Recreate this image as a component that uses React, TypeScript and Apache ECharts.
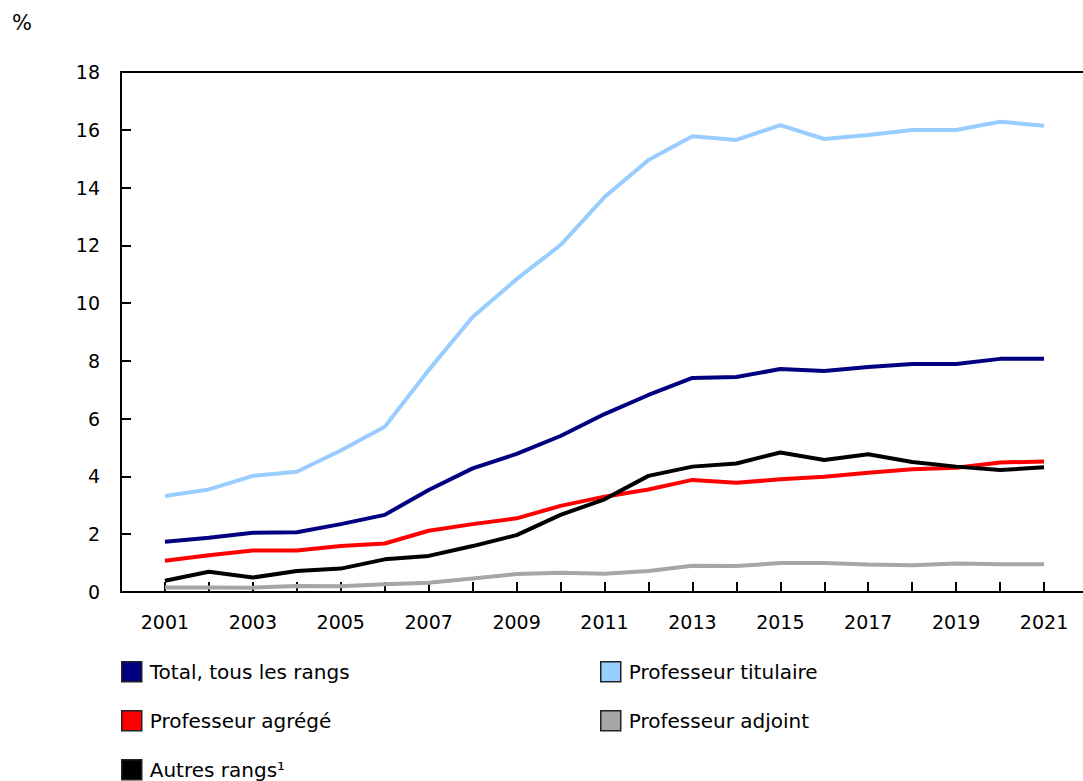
import React, { useEffect, useRef } from "react";
import * as echarts from "echarts";

const years = [2001, 2002, 2003, 2004, 2005, 2006, 2007, 2008, 2009, 2010, 2011, 2012, 2013, 2014, 2015, 2016, 2017, 2018, 2019, 2020, 2021];
const total = [1.74, 1.88, 2.05, 2.07, 2.35, 2.67, 3.53, 4.28, 4.78, 5.4, 6.16, 6.82, 7.41, 7.44, 7.72, 7.65, 7.79, 7.89, 7.89, 8.07, 8.07];
const titulaire = [3.32, 3.55, 4.02, 4.16, 4.9, 5.72, 7.68, 9.52, 10.83, 12.01, 13.67, 14.95, 15.78, 15.65, 16.16, 15.68, 15.82, 15.99, 15.99, 16.28, 16.14];
const agrege = [1.08, 1.27, 1.44, 1.44, 1.59, 1.68, 2.12, 2.35, 2.55, 2.98, 3.3, 3.55, 3.88, 3.78, 3.9, 3.99, 4.13, 4.25, 4.3, 4.48, 4.52];
const adjoint = [0.16, 0.16, 0.15, 0.21, 0.2, 0.27, 0.32, 0.47, 0.62, 0.67, 0.63, 0.73, 0.91, 0.9, 1.0, 1.0, 0.95, 0.93, 0.99, 0.96, 0.96];
const autres = [0.39, 0.7, 0.5, 0.73, 0.81, 1.13, 1.25, 1.59, 1.97, 2.67, 3.21, 4.02, 4.34, 4.45, 4.83, 4.57, 4.77, 4.5, 4.34, 4.22, 4.32];

const seriesDefs = [
  { name: "Total, tous les rangs", data: total, color: "#000080" },
  { name: "Professeur titulaire", data: titulaire, color: "#99ccff" },
  { name: "Professeur agrégé", data: agrege, color: "#ff0000" },
  { name: "Professeur adjoint", data: adjoint, color: "#a6a6a6" },
  { name: "Autres rangs¹", data: autres, color: "#000000" },
];

const legendPlaces = [
  { name: "Total, tous les rangs", left: 121, top: 661 },
  { name: "Professeur titulaire", left: 600, top: 661 },
  { name: "Professeur agrégé", left: 121, top: 710 },
  { name: "Professeur adjoint", left: 600, top: 710 },
  { name: "Autres rangs¹", left: 121, top: 759 },
];

const FONT = "DejaVu Sans, Verdana, sans-serif";

export default function App() {
  const ref = useRef<HTMLDivElement>(null);
  useEffect(() => {
    if (!ref.current) return;
    const chart = echarts.init(ref.current, undefined, { renderer: "svg" });
    chart.setOption({
      animation: false,
      title: {
        text: "%",
        left: 12,
        top: 12,
        padding: 0,
        textStyle: { fontFamily: FONT, fontSize: 21, fontWeight: "normal", color: "#000" },
      },
      legend: legendPlaces.map((p) => ({
        left: p.left,
        top: p.top,
        orient: "horizontal",
        icon: "rect",
        itemWidth: 20,
        itemHeight: 20,
        padding: 0,
        selectedMode: false,
        textStyle: { fontFamily: FONT, fontSize: 20, color: "#000", padding: [0, 0, 0, 3] },
        data: [{ name: p.name, itemStyle: { borderColor: "#222", borderWidth: 1.5 } }],
      })),
      grid: { left: 121, top: 72, right: 0, bottom: 189, containLabel: false },
      xAxis: [
        {
          type: "value",
          min: 2000,
          max: 2022,
          interval: 1,
          axisLine: { show: true, lineStyle: { color: "#000", width: 2 } },
          axisTick: { show: true, inside: true, length: 10, lineStyle: { color: "#000", width: 2 } },
          splitLine: { show: false },
          axisLabel: {
            margin: 20,
            fontFamily: FONT,
            fontSize: 19,
            color: "#000",
            formatter: (v: number) => (v % 2 === 1 && v < 2022 ? String(v) : ""),
          },
        },
        {
          type: "value",
          position: "top",
          min: 2000,
          max: 2022,
          axisLine: { show: true, lineStyle: { color: "#000", width: 2 } },
          axisTick: { show: false },
          axisLabel: { show: false },
          splitLine: { show: false },
        },
      ],
      yAxis: {
        type: "value",
        min: 0,
        max: 18,
        interval: 2,
        axisLine: { show: true, lineStyle: { color: "#000", width: 2 } },
        axisTick: { show: true, inside: true, length: 10, lineStyle: { color: "#000", width: 2 } },
        splitLine: { show: false },
        axisLabel: { margin: 21, fontFamily: FONT, fontSize: 19, color: "#000" },
      },
      series: seriesDefs.map((s) => ({
        name: s.name,
        type: "line",
        xAxisIndex: 0,
        data: years.map((y, i) => [y, s.data[i]]),
        showSymbol: false,
        symbol: "none",
        color: s.color,
        lineStyle: { color: s.color, width: 4 },
        itemStyle: { color: s.color },
        z: s.name === "Professeur adjoint" ? 1 : 2,
      })),
    });
    return () => chart.dispose();
  }, []);
  return (
    <div style={{ position: "fixed", left: 0, top: 0, width: 1083, height: 781, overflow: "hidden", background: "#fff" }}>
      <div ref={ref} style={{ width: 1091, height: 781 }} />
    </div>
  );
}
